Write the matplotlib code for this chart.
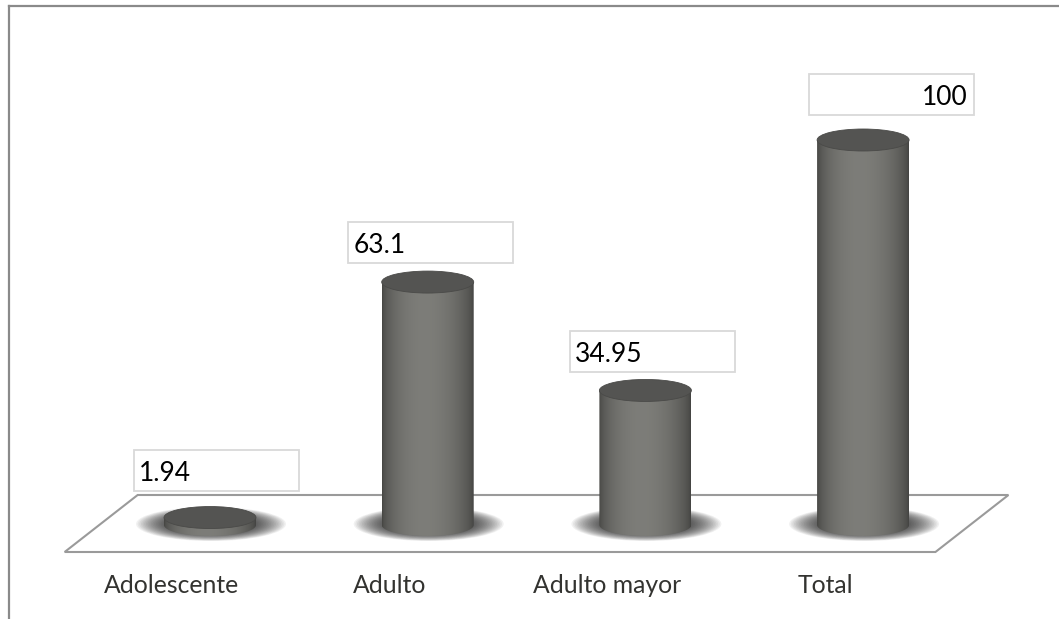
import numpy as np
import matplotlib.pyplot as plt
from matplotlib.patches import Ellipse, Polygon, Rectangle
from matplotlib.lines import Line2D

categories = ['Adolescente', 'Adulto', 'Adulto mayor', 'Total']
values = [1.94, 63.1, 34.95, 100]
value_labels = ['1.94', '63.1', '34.95', '100']

# the label boxes were nudged by hand in the original, so keep small offsets (px)
box_dx = [6, 3, 7, 28]
box_gap = [16, 8, 7, 14]
box_ha = ['left', 'left', 'left', 'right']

W, H = 1059, 619
STEP = 217.7   # px between cylinder centres
X0 = 210       # px of first cylinder centre
BASE = 525     # px (from top) where value 0 sits
PXU = 3.85     # px per value unit


def px(n):
    """horizontal pixels -> data units"""
    return n / STEP


def py(n):
    """vertical pixels -> data units"""
    return n / PXU


plt.rcParams['font.family'] = ['Lato', 'DejaVu Sans']

fig = plt.figure(figsize=(W / 100, H / 100), dpi=100)
ax = fig.add_axes([0, 0, 1, 1])
ax.axis('off')

# outer frame (only top and left are visible)
fig.add_artist(Line2D([8.5 / W, 8.5 / W], [0, 1 - 5.5 / H], color='#8a8a8a', lw=1.6))
fig.add_artist(Line2D([8.5 / W, 1058 / W], [1 - 5.5 / H, 1 - 5.5 / H], color='#8a8a8a', lw=1.6))

n = len(categories)
xs = np.arange(n)
mid = (n - 1) / 2
half = n / 2
skew = px(73)

# floor
floor = Polygon([(mid - skew / 2 - half, -py(27)), (mid - skew / 2 + half, -py(27)),
                 (mid + skew / 2 + half, py(30)), (mid + skew / 2 - half, py(30))],
                closed=True, fc='white', ec='#9a9a9a', lw=1.5, zorder=1)
ax.add_patch(floor)

a = px(46)   # cylinder half width
b = py(11)   # ellipse half height

t = np.linspace(0, 1, 256)
f = np.sin(np.pi * t ** 0.9) ** 0.6
shade = 0.26 + 0.23 * f
grad = np.stack([shade, shade, shade * 0.965], axis=-1)[None, :, :]

for i, (x, v) in enumerate(zip(xs, values)):
    # blurred shadow on the floor
    for k in range(22):
        s = 1.0 - k * 0.022
        ax.add_patch(Ellipse((x + px(1), py(1)), px(150) * s, py(34) * s,
                             fc='#1a1a1a', ec='none', alpha=0.06, zorder=2))

    # body: rectangle + lower half of the bottom ellipse, filled with a gradient
    th = np.linspace(np.pi, 2 * np.pi, 60)
    pts = list(zip(x + a * np.cos(th), b * np.sin(th)))
    pts += [(x + a, v), (x - a, v)]
    body = Polygon(pts, closed=True, fc='none', ec='none', transform=ax.transData)
    ax.add_patch(body)
    img = ax.imshow(grad, extent=[x - a, x + a, -b, v], aspect='auto',
                    interpolation='bilinear', zorder=3)
    img.set_clip_path(body)

    # top cap
    ax.add_patch(Ellipse((x, v), 2 * a, 2 * b, fc='#545452', ec='#4a4a48',
                         lw=0.6, zorder=4))

    # value label box
    cx = x + px(box_dx[i])
    y0 = v + b + py(box_gap[i])
    ax.add_patch(Rectangle((cx - px(82.5), y0), px(165), py(41), fc='white',
                           ec='#d9d9d9', lw=1.3, zorder=5))
    if box_ha[i] == 'left':
        tx = cx - px(82.5) + px(5)
    else:
        tx = cx + px(82.5) - px(6)
    ax.text(tx, y0 + py(10), value_labels[i], ha=box_ha[i], va='baseline',
            fontsize=19, color='black', zorder=6)

    # category label
    ax.text(x - px(38), -py(68), categories[i], ha='center', va='baseline',
            fontsize=17.8, color='#333330', zorder=6)

ax.set_xlim(-X0 / STEP, (W - X0) / STEP)
ax.set_ylim(-(H - BASE) / PXU, BASE / PXU)

fig.savefig('out.png', dpi=100)
